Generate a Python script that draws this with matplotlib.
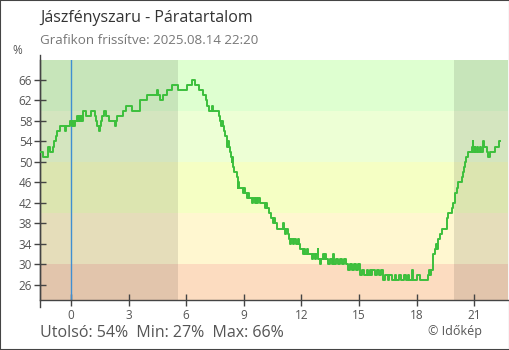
import matplotlib
matplotlib.use('Agg')
import matplotlib.pyplot as plt
from matplotlib.patches import Rectangle

plt.rcParams['font.family'] = ['Open Sans', 'DejaVu Sans']

# humidity data: step breakpoints (hours relative to midnight, %)
hours = [-1.61, -1.45, -1.22, -1.18, -1.12, -0.94, -0.86, -0.80, -0.75, -0.55, -0.30, -0.25,
         -0.05, 0.03, 0.10, 0.16, 0.21, 0.30, 0.36, 0.42, 0.47, 0.52, 0.57, 0.62, 0.78, 1.04,
         1.25, 1.30, 1.35, 1.45, 1.51, 1.56, 1.62, 1.72, 1.82, 1.98, 2.28, 2.33, 2.40, 2.71,
         2.86, 3.18, 3.59, 3.96, 4.46, 4.52, 4.64, 4.79, 5.00, 5.26, 5.57, 6.04, 6.30, 6.46,
         6.67, 6.88, 7.03, 7.10, 7.19, 7.32, 7.38, 7.71, 7.78, 7.83, 7.88, 7.93, 7.97, 8.02,
         8.10, 8.15, 8.20, 8.24, 8.28, 8.33, 8.37, 8.41, 8.44, 8.50, 8.65, 8.68, 8.72, 8.75,
         8.96, 9.00, 9.05, 9.17, 9.22, 9.27, 9.43, 9.50, 9.56, 9.62, 9.68, 9.75, 9.82, 10.10,
         10.16, 10.22, 10.30, 10.40, 10.52, 10.58, 10.64, 10.73, 11.04, 11.08, 11.15, 11.22,
         11.28, 11.35, 11.42, 11.48, 11.55, 11.62, 11.70, 11.80, 11.88, 11.93, 12.08, 12.14,
         12.20, 12.28, 12.36, 12.55, 12.60, 12.70, 12.78, 12.84, 12.88, 12.97, 13.01, 13.10,
         13.16, 13.25, 13.30, 13.39, 13.50, 13.58, 13.65, 13.69, 13.80, 13.90, 14.00, 14.10,
         14.20, 14.30, 14.43, 14.55, 14.62, 14.75, 14.82, 14.95, 15.05, 15.15, 15.25, 15.40,
         15.48, 15.57, 15.65, 15.70, 15.83, 15.95, 16.05, 16.15, 16.25, 16.35, 16.50, 16.58,
         16.72, 16.85, 16.95, 17.10, 17.20, 17.35, 17.45, 17.55, 17.62, 17.78, 17.81, 18.02,
         18.18, 18.59, 18.65, 18.70, 18.75, 18.85, 18.96, 19.03, 19.07, 19.11, 19.22, 19.32,
         19.58, 19.64, 19.84, 19.90, 20.00, 20.10, 20.16, 20.36, 20.42, 20.47, 20.52, 20.57,
         20.68, 20.89, 20.92, 20.95, 21.02, 21.06, 21.15, 21.19, 21.30, 21.34, 21.46, 21.50,
         21.67, 21.72, 21.82, 22.08, 22.29, 22.33]
humidity = [52, 51, 52, 53, 52, 53, 54, 55, 56, 57, 56, 57,
            58, 57, 58, 57, 58, 59, 58, 59, 58, 59, 58, 60, 59, 60,
            59, 58, 57, 56, 57, 58, 59, 60, 59, 58, 57, 58, 59, 60,
            61, 60, 62, 63, 64, 63, 62, 63, 64, 65, 64, 65, 66, 65,
            64, 63, 62, 61, 60, 61, 60, 59, 58, 57, 58, 57, 56, 55,
            54, 53, 54, 53, 52, 51, 50, 51, 49, 48, 47, 45, 46, 45,
            44, 45, 44, 43, 44, 43, 42, 43, 42, 43, 42, 43, 42, 41,
            42, 41, 40, 39, 38, 39, 38, 37, 38, 37, 36, 37,
            36, 35, 34, 35, 34, 35, 34, 35, 34, 33, 32, 33,
            32, 33, 32, 31, 32, 31, 32, 33, 31, 30, 31, 32,
            31, 32, 31, 30, 31, 30, 32, 30, 31, 30, 31, 30,
            31, 30, 29, 30, 29, 30, 29, 30, 28, 29, 28, 29,
            28, 29, 28, 29, 28, 29, 28, 29, 27, 28, 27, 28,
            27, 28, 27, 28, 27, 28, 27, 28, 27, 29, 27, 28,
            27, 28, 29, 28, 29, 32, 33, 34, 33, 35, 36, 37,
            39, 40, 41, 42, 44, 45, 46, 47, 48, 49, 50, 51,
            52, 53, 54, 52, 53, 52, 53, 52, 53, 52, 54, 53,
            52, 51, 52, 53, 54, 54]

x_ticks = [0, 3, 6, 9, 12, 15, 18, 21]
y_ticks = [26, 30, 34, 38, 42, 46, 50, 54, 58, 62, 66]
band_edges = [0, 30, 40, 50, 60, 100]
band_colors = ['#fcdcc0', '#fff7d0', '#f5ffc4', '#edffd5', '#deffd0']
sunrise = 5.57
sunset = 19.95
last_val, min_val, max_val = 54, 27, 66

fig = plt.figure(figsize=(5.1, 3.5), dpi=100)
ax = fig.add_axes([40 / 510, 50 / 350, 468 / 510, 240 / 350])
xmin, xmax = -1.615, 22.76
ax.set_xlim(xmin, xmax)
ax.set_ylim(23.07, 69.9)

# colour bands
for lo, hi, c in zip(band_edges[:-1], band_edges[1:], band_colors):
    ax.axhspan(lo, hi, color=c, lw=0, zorder=0)
# night shading
ax.axvspan(xmin, sunrise, color='black', alpha=0.1, lw=0, zorder=1)
ax.axvspan(sunset, xmax, color='black', alpha=0.1, lw=0, zorder=1)

ax.axvline(0, color='#3f8fd2', lw=1.0, zorder=2)
ax.plot(hours, humidity, drawstyle='steps-post', color='#3cbf3c', lw=1.4, zorder=3)

ax.set_xticks(x_ticks)
ax.set_yticks(y_ticks)
ax.tick_params(axis='both', direction='inout', length=9, width=1, color='#444',
               labelcolor='#555', labelsize=8.5)
ax.tick_params(axis='y', pad=1)
ax.tick_params(axis='x', pad=2)
for s in ['top', 'right']:
    ax.spines[s].set_visible(False)
for s in ['left', 'bottom']:
    ax.spines[s].set_color('#444')
    ax.spines[s].set_linewidth(1)
ax.plot([0, 0], [-0.03, 1.02], transform=ax.transAxes, color='#444', lw=1, clip_on=False)

fig.text(40 / 510, 1 - 18 / 350, 'Jászfényszaru - Páratartalom', fontsize=11.5,
         color='#333', va='center')
fig.text(40 / 510, 1 - 41 / 350, 'Grafikon frissítve: 2025.08.14 22:20', fontsize=9.6,
         color='#777', va='center')
fig.text(17 / 510, 1 - 50 / 350, '%', fontsize=8.5, color='#555', ha='center', va='center')
fig.text(40 / 510, 1 - 333 / 350, f'Utolsó: {last_val}%  Min: {min_val}%  Max: {max_val}%',
         fontsize=11.5, color='#555', va='center')
fig.text(482 / 510, 1 - 331 / 350, '© Időkép', fontsize=9, color='#555',
         ha='right', va='center')

fig.patches.append(Rectangle((0, 0), 1, 1, transform=fig.transFigure, fill=False,
                             edgecolor='#444', lw=1.5))

fig.savefig('out.png', dpi=100)
